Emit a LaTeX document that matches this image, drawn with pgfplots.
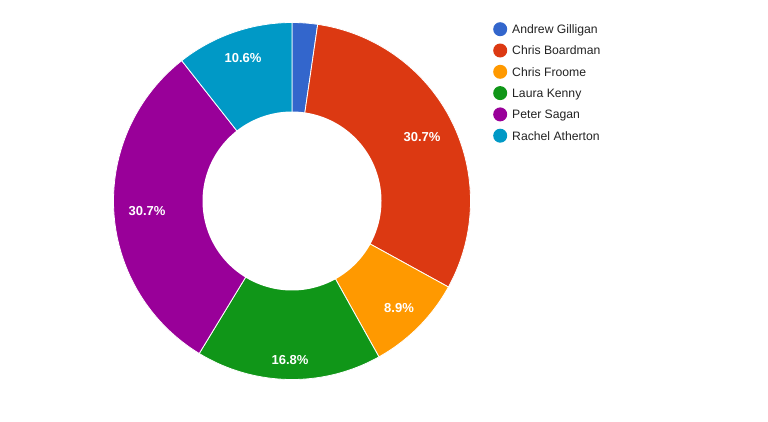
\documentclass[border=0pt]{standalone}
\usepackage{pgfplots}
\pgfplotsset{compat=1.18}
\usepackage{fontspec}
\setmainfont{Liberation Sans}
\definecolor{cAG}{HTML}{3366CC}
\definecolor{cCB}{HTML}{DC3912}
\definecolor{cCF}{HTML}{FF9900}
\definecolor{cLK}{HTML}{109618}
\definecolor{cPS}{HTML}{990099}
\definecolor{cRA}{HTML}{0099C6}
\definecolor{legtext}{HTML}{222222}
\begin{document}
\begin{tikzpicture}
% shares (%): AG 2.3, CB 30.7, CF 8.9, LK 16.8, PS 30.7, RA 10.6 ; clockwise from top, angle = 90 - 3.6*cumulative
\begin{axis}[
  width=768pt, height=421pt, scale only axis,
  xmin=0, xmax=768, ymin=0, ymax=421, y dir=reverse,
  hide axis, clip=false,
  legend image code/.code={\fill[#1, draw=none] (7pt,0pt) circle (7pt);},
  legend cell align=left,
  legend style={draw=none, fill=none, at={(axis cs:493,22)}, anchor=north west,
    inner sep=0pt, row sep=7.3pt, column sep=5pt,
    nodes={inner sep=0pt, text height=10.3pt, text depth=1.7pt, text=legtext},
    font=\fontsize{12.2}{14}\selectfont},
]
\addplot[draw=none, forget plot] coordinates {(0,0) (768,421)};
\addplot[fill=cAG, draw=white, line width=0.8pt, domain=81.72:90, samples=20]
  ({292+178.5*cos(x)},{201-178.5*sin(x)}) -- (axis cs:292,201) -- cycle;
\addlegendentry{Andrew Gilligan}
\addplot[fill=cCB, draw=white, line width=0.8pt, domain=-28.8:81.72, samples=120]
  ({292+178.5*cos(x)},{201-178.5*sin(x)}) -- (axis cs:292,201) -- cycle;
\addlegendentry{Chris Boardman}
\addplot[fill=cCF, draw=white, line width=0.8pt, domain=-60.84:-28.8, samples=40]
  ({292+178.5*cos(x)},{201-178.5*sin(x)}) -- (axis cs:292,201) -- cycle;
\addlegendentry{Chris Froome}
\addplot[fill=cLK, draw=white, line width=0.8pt, domain=-121.32:-60.84, samples=70]
  ({292+178.5*cos(x)},{201-178.5*sin(x)}) -- (axis cs:292,201) -- cycle;
\addlegendentry{Laura Kenny}
\addplot[fill=cPS, draw=white, line width=0.8pt, domain=-231.84:-121.32, samples=120]
  ({292+178.5*cos(x)},{201-178.5*sin(x)}) -- (axis cs:292,201) -- cycle;
\addlegendentry{Peter Sagan}
\addplot[fill=cRA, draw=white, line width=0.8pt, domain=-270:-231.84, samples=45]
  ({292+178.5*cos(x)},{201-178.5*sin(x)}) -- (axis cs:292,201) -- cycle;
\addlegendentry{Rachel Atherton}
\addplot[fill=white, draw=none, domain=0:360, samples=180, forget plot]
  ({292+89.5*cos(x)},{201-89.5*sin(x)});
\addplot[draw=none, mark=none, forget plot, nodes near coords, point meta=explicit symbolic,
  nodes near coords style={anchor=center, text=white, inner sep=0pt, font=\bfseries\fontsize{13}{13}\selectfont}]
  coordinates {(422,137)[30.7\%] (399,308)[8.9\%] (290,360)[16.8\%] (147,211)[30.7\%] (243,58)[10.6\%]};
\end{axis}
\end{tikzpicture}
\end{document}
